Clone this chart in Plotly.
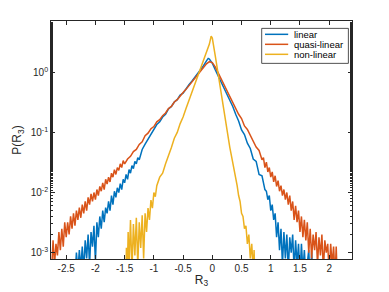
import plotly.graph_objects as go

# ---- data (R3 value, probability density) ----
x_linear = [-2.350, -2.325, -2.300, -2.275, -2.250, -2.225, -2.200, -2.175, -2.150, -2.125, -2.100, -2.075,
            -2.050, -2.025, -2.000, -1.975, -1.950, -1.925, -1.900, -1.875, -1.850, -1.825, -1.800, -1.775,
            -1.750, -1.725, -1.700, -1.675, -1.650, -1.625, -1.600, -1.575, -1.550, -1.525, -1.500, -1.475,
            -1.450, -1.425, -1.400, -1.375, -1.350, -1.325, -1.300, -1.275, -1.250,
            -1.20, -1.15, -1.10, -1.05, -1.00, -0.95, -0.90, -0.85, -0.80, -0.75, -0.70, -0.65, -0.60, -0.55,
            -0.50, -0.45, -0.40, -0.35, -0.30, -0.25, -0.20, -0.15, -0.10, -0.07, -0.05, 0.00, 0.05, 0.10,
            0.15, 0.20, 0.25, 0.30, 0.35, 0.40, 0.45, 0.50, 0.55, 0.60, 0.65, 0.70, 0.75, 0.80, 0.85,
            0.900, 0.925, 0.950, 0.975, 1.000, 1.025, 1.050, 1.075, 1.100, 1.125, 1.150, 1.175, 1.200, 1.225,
            1.250, 1.275, 1.300, 1.325, 1.350, 1.375, 1.400, 1.425, 1.450, 1.475, 1.500, 1.525, 1.550, 1.575,
            1.600, 1.650, 1.675, 1.700, 1.725]
p_linear = [0.0004, 0.001, 0.0005, 0.0011, 0.00056, 0.00126, 0.0005, 0.0016, 0.0008, 0.002, 0.00063, 0.0022,
            0.00126, 0.0028, 0.0007, 0.0032, 0.0018, 0.004, 0.0025, 0.005, 0.0032, 0.0056, 0.0045, 0.0071,
            0.005, 0.0089, 0.0063, 0.0105, 0.0083, 0.012, 0.01, 0.014, 0.0112, 0.0166, 0.0145, 0.02,
            0.0166, 0.024, 0.021, 0.028, 0.025, 0.033, 0.03, 0.038, 0.035,
            0.052, 0.064, 0.078, 0.092, 0.11, 0.135, 0.15, 0.18, 0.2, 0.245, 0.27, 0.32, 0.35, 0.42,
            0.45, 0.54, 0.62, 0.71, 0.82, 0.93, 1.1, 1.29, 1.55, 1.7, 1.66, 1.41, 1.1, 0.87,
            0.68, 0.55, 0.44, 0.35, 0.27, 0.2, 0.155, 0.11, 0.092, 0.066, 0.054, 0.036, 0.033, 0.02, 0.019,
            0.0112, 0.0105, 0.0076, 0.0089, 0.005, 0.0063, 0.0035, 0.0045, 0.0018, 0.0032, 0.0011, 0.0025, 0.00063, 0.0022,
            0.0008, 0.002, 0.0005, 0.0018, 0.001, 0.002, 0.0005, 0.0016, 0.00063, 0.0014, 0.0004, 0.0014, 0.0005, 0.0011,
            0.0004, 0.0011, 0.0003, 0.00105, 0.0003]

x_quasi = [-2.750, -2.725, -2.700, -2.675, -2.650, -2.625, -2.600, -2.575, -2.550, -2.525,
           -2.500, -2.475, -2.450, -2.425, -2.400, -2.375, -2.350, -2.325, -2.300, -2.275,
           -2.250, -2.225, -2.200, -2.175, -2.150, -2.125, -2.100, -2.075, -2.050, -2.025,
           -2.000, -1.975, -1.950, -1.925, -1.900, -1.875, -1.850, -1.825, -1.800, -1.775,
           -1.750, -1.725, -1.700, -1.675, -1.650, -1.625, -1.600, -1.575, -1.550, -1.525, -1.500,
           -1.45, -1.40, -1.35, -1.30, -1.25, -1.20, -1.15, -1.10, -1.05, -1.00,
           -0.95, -0.90, -0.85, -0.80, -0.75, -0.70, -0.65, -0.60, -0.55, -0.50,
           -0.45, -0.40, -0.35, -0.30, -0.25, -0.20, -0.15, -0.10, -0.05, 0.00,
           0.05, 0.10, 0.15, 0.20, 0.25, 0.30, 0.35, 0.40, 0.45, 0.50,
           0.55, 0.60, 0.65, 0.70, 0.75, 0.80,
           0.825, 0.850, 0.875, 0.900, 0.925, 0.950, 0.975, 1.000, 1.025, 1.050,
           1.075, 1.100, 1.125, 1.150, 1.175, 1.200, 1.225, 1.250, 1.275, 1.300,
           1.325, 1.350, 1.375, 1.400, 1.425, 1.450, 1.475, 1.500, 1.525, 1.550,
           1.575, 1.600, 1.625, 1.650, 1.675, 1.700, 1.725, 1.750, 1.775, 1.800,
           1.825, 1.850, 1.875, 1.900, 1.925, 1.950, 1.975, 2.000, 2.025, 2.050,
           2.075, 2.100, 2.120, 2.140]
p_quasi = [0.0005, 0.0016, 0.00063, 0.0014, 0.0009, 0.0022, 0.0011, 0.0025, 0.00126, 0.0032,
           0.0018, 0.0032, 0.002, 0.004, 0.0025, 0.0045, 0.0028, 0.005, 0.0035, 0.0056,
           0.0038, 0.0063, 0.0045, 0.0071, 0.005, 0.0083, 0.0063, 0.0095, 0.0071, 0.01,
           0.0076, 0.0112, 0.0089, 0.0126, 0.0105, 0.0145, 0.0112, 0.0166, 0.0138, 0.018,
           0.015, 0.021, 0.018, 0.024, 0.02, 0.026, 0.0234, 0.03, 0.026, 0.034, 0.03,
           0.036, 0.04, 0.048, 0.052, 0.063, 0.07, 0.088, 0.097, 0.115, 0.125,
           0.15, 0.163, 0.19, 0.21, 0.25, 0.27, 0.32, 0.35, 0.41, 0.46,
           0.52, 0.6, 0.69, 0.79, 0.89, 1.02, 1.2, 1.38, 1.5, 1.45,
           1.23, 0.98, 0.79, 0.65, 0.51, 0.42, 0.33, 0.265, 0.2, 0.17,
           0.128, 0.112, 0.09, 0.074, 0.057, 0.05,
           0.042, 0.035, 0.038, 0.026, 0.032, 0.022, 0.026, 0.018, 0.022, 0.015,
           0.019, 0.0126, 0.0158, 0.0105, 0.013, 0.0089, 0.0112, 0.0076, 0.01, 0.0063,
           0.0089, 0.005, 0.0071, 0.0035, 0.006, 0.0032, 0.005, 0.0022, 0.004, 0.0018,
           0.0035, 0.0016, 0.0032, 0.001, 0.0025, 0.0008, 0.002, 0.0011, 0.0022, 0.00063,
           0.0018, 0.0009, 0.002, 0.0005, 0.0016, 0.001, 0.0014, 0.0004, 0.0014, 0.00063,
           0.00126, 0.0004, 0.00126, 0.0003]

x_nonlin = [-1.480, -1.470, -1.455, -1.440, -1.425, -1.400, -1.375, -1.350, -1.325, -1.300, -1.275, -1.250,
            -1.225, -1.200, -1.175, -1.150, -1.125, -1.100, -1.075, -1.050, -1.025, -1.000, -0.975, -0.950,
            -0.90, -0.85, -0.80, -0.75, -0.70, -0.65, -0.60, -0.55, -0.50, -0.45, -0.40, -0.35, -0.30,
            -0.25, -0.20, -0.15, -0.10, -0.05, -0.02, 0.00, 0.05, 0.10, 0.15, 0.20, 0.25, 0.30,
            0.325, 0.350, 0.375, 0.400, 0.425, 0.450, 0.475, 0.500, 0.525, 0.550, 0.575, 0.600,
            0.625, 0.650, 0.675, 0.700, 0.715, 0.730]
p_nonlin = [0.0003, 0.0012, 0.0004, 0.0022, 0.0006, 0.0035, 0.0005, 0.003, 0.0009, 0.0038, 0.0006, 0.0032,
            0.0012, 0.0042, 0.0008, 0.0045, 0.0022, 0.0055, 0.0035, 0.0075, 0.0055, 0.01, 0.0085, 0.013,
            0.018, 0.021, 0.03, 0.04, 0.056, 0.08, 0.1, 0.14, 0.18, 0.25, 0.34, 0.47, 0.62,
            0.85, 1.15, 1.58, 2.14, 2.95, 4.0, 3.7, 1.9, 0.91, 0.45, 0.22, 0.11, 0.056,
            0.042, 0.032, 0.024, 0.0166, 0.013, 0.0089, 0.0071, 0.0045, 0.004, 0.0025, 0.0028, 0.0014,
            0.002, 0.0008, 0.0014, 0.0005, 0.0011, 0.0003]

x_tick_vals = [-2.5, -2, -1.5, -1, -0.5, 0, 0.5, 1, 1.5, 2]
x_tick_text = ["-2.5", "-2", "-1.5", "-1", "-0.5", "0", "0.5", "1", "1.5", "2"]
y_tick_vals = [0.001, 0.01, 0.1, 1]
y_tick_text = ["10<sup>-3</sup>", "10<sup>-2</sup>", "10<sup>-1</sup>", "10<sup>0</sup>"]

series_names = ["linear", "quasi-linear", "non-linear"]
series_colors = ["#0072BD", "#D95319", "#EDB120"]
series_x = [x_linear, x_quasi, x_nonlin]
series_p = [p_linear, p_quasi, p_nonlin]

for xs, ps in zip(series_x, series_p):
    assert len(xs) == len(ps), (len(xs), len(ps))

FONT = "Liberation Sans, Arial, sans-serif"
INK = "#262626"

fig = go.Figure()
for name, xs, ps, col in zip(series_names, series_x, series_p, series_colors):
    fig.add_trace(go.Scatter(x=xs, y=ps, mode="lines", name=name,
                             line=dict(color=col, width=1.5), showlegend=False))

axis_common = dict(
    showline=True, linecolor=INK, linewidth=0.8, mirror="ticks",
    ticks="inside", ticklen=4, tickcolor=INK, tickwidth=0.8,
    showgrid=False, zeroline=False, automargin=False,
    tickfont=dict(family=FONT, size=10, color=INK),
)

fig.update_xaxes(range=[-2.76, 2.39], tickmode="array", tickvals=x_tick_vals, ticktext=x_tick_text,
                 title=dict(text="R<sub>3</sub>", standoff=2,
                            font=dict(family=FONT, size=12, color=INK)),
                 **axis_common)
fig.update_yaxes(type="log", range=[-3.106, 0.853], tickmode="array", tickvals=y_tick_vals, ticktext=y_tick_text,
                 minor=dict(ticks="inside", ticklen=2, tickcolor=INK, showgrid=False),
                 title=dict(text="P(R<sub>3</sub>)", standoff=6,
                            font=dict(family=FONT, size=12, color=INK)),
                 **axis_common)

# compact MATLAB-style legend box (paper coordinates)
fig.add_shape(type="rect", xref="paper", yref="paper", x0=0.700, x1=0.988, y0=0.822, y1=0.969,
              line=dict(color=INK, width=0.8), fillcolor="white", layer="above")
row_y = [0.944, 0.902, 0.860]
for name, col, ry in zip(series_names, series_colors, row_y):
    fig.add_shape(type="line", xref="paper", yref="paper", x0=0.711, x1=0.788, y0=ry, y1=ry,
                  line=dict(color=col, width=1.5), layer="above")
    fig.add_annotation(xref="paper", yref="paper", x=0.802, y=ry, text=name, showarrow=False,
                       xanchor="left", yanchor="middle",
                       font=dict(family=FONT, size=9.5, color="#000000"))

fig.update_layout(
    width=381, height=284,
    margin=dict(l=43, r=37, t=13, b=33),
    paper_bgcolor="white", plot_bgcolor="white",
    showlegend=False,
)

fig.write_html("out.html")
